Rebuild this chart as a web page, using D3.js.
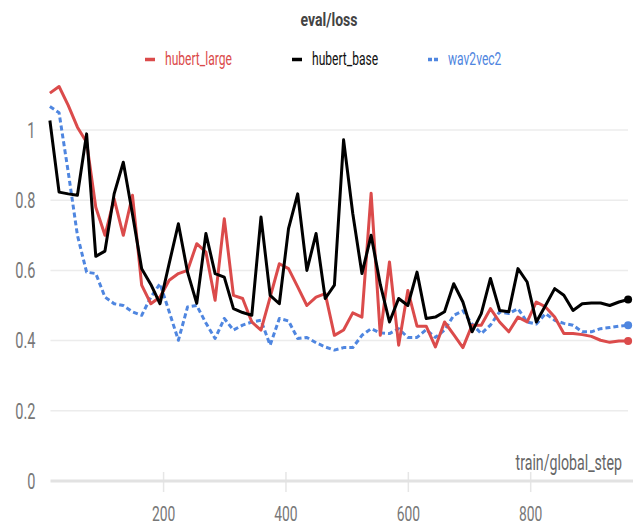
<!DOCTYPE html>
<html>
<head>
<meta charset="utf-8">
<script src="https://cdn.jsdelivr.net/npm/d3@7"></script>
<style>
  body { margin: 0; background: #fff; }
  text { font-family: Roboto, "Liberation Sans", sans-serif; }
</style>
</head>
<body>
<div id="chart-area"></div>
<script>
// eval/loss per eval step
var steps = [15, 30, 45, 60, 75, 90, 105, 120, 135, 150, 165, 180, 195, 210, 225, 240,
    255, 270, 285, 300, 315, 330, 345, 360, 375, 390, 405, 420, 435, 450, 465, 480,
    495, 510, 525, 540, 555, 570, 585, 600, 615, 630, 645, 660, 675, 690, 705, 720,
    735, 750, 765, 780, 795, 810, 825, 840, 855, 870, 885, 900, 915, 930, 945, 960];

var hubertLarge = [1.105, 1.124, 1.07, 1.008, 0.965, 0.78, 0.70, 0.804, 0.70, 0.814, 0.558, 0.505, 0.524, 0.572, 0.591, 0.60,
    0.676, 0.652, 0.515, 0.747, 0.529, 0.52, 0.453, 0.43, 0.524, 0.619, 0.605, 0.553, 0.50, 0.524, 0.534, 0.415,
    0.43, 0.479, 0.467, 0.82, 0.415, 0.624, 0.387, 0.543, 0.441, 0.441, 0.382, 0.453, 0.417, 0.38, 0.444, 0.444,
    0.491, 0.453, 0.425, 0.467, 0.453, 0.51, 0.496, 0.467, 0.42, 0.42, 0.417, 0.412, 0.401, 0.395, 0.399, 0.399];

var hubertBase = [1.027, 0.823, 0.818, 0.814, 0.989, 0.64, 0.655, 0.818, 0.908, 0.76, 0.605, 0.56, 0.505, 0.62, 0.733, 0.595,
    0.506, 0.705, 0.591, 0.581, 0.491, 0.48, 0.472, 0.752, 0.529, 0.505, 0.719, 0.818, 0.60, 0.705, 0.52, 0.558,
    0.972, 0.762, 0.591, 0.70, 0.56, 0.453, 0.52, 0.50, 0.595, 0.463, 0.467, 0.482, 0.562, 0.51, 0.425, 0.477,
    0.577, 0.486, 0.482, 0.605, 0.567, 0.453, 0.50, 0.548, 0.529, 0.486, 0.505, 0.507, 0.507, 0.50, 0.51, 0.517];

var wav2vec2 = [1.067, 1.049, 0.88, 0.70, 0.595, 0.591, 0.524, 0.505, 0.50, 0.482, 0.472, 0.524, 0.562, 0.482, 0.401, 0.496,
    0.50, 0.45, 0.406, 0.463, 0.43, 0.444, 0.453, 0.458, 0.387, 0.463, 0.456, 0.406, 0.409, 0.394, 0.382, 0.373,
    0.38, 0.38, 0.415, 0.434, 0.422, 0.42, 0.434, 0.409, 0.409, 0.431, 0.409, 0.43, 0.472, 0.485, 0.447, 0.42,
    0.444, 0.482, 0.477, 0.491, 0.453, 0.447, 0.477, 0.458, 0.449, 0.444, 0.425, 0.425, 0.434, 0.437, 0.441, 0.444];

var seriesNames = ["hubert_large", "hubert_base", "wav2vec2"];
var seriesColors = ["#db4b4b", "#000000", "#4f86e0"];
var yTicks = [0, 0.2, 0.4, 0.6, 0.8, 1];
var xTicks = [200, 400, 600, 800];

var width = 633;
var height = 527;
var sx = 0.66; // narrow lettering

var svg = d3.select("#chart-area").append("svg")
    .attr("width", width)
    .attr("height", height);

var x = d3.scaleLinear()
    .domain([16, 968])
    .range([50.5, 633]);

var y = d3.scaleLinear()
    .domain([0, 1])
    .range([481, 130]);

// horizontal grid
svg.append("g")
    .attr("class", "grid")
    .selectAll("line")
    .data(yTicks.filter((d) => d > 0))
    .enter().append("line")
        .attr("x1", x.range()[0])
        .attr("x2", 628)
        .attr("y1", (d) => y(d))
        .attr("y2", (d) => y(d))
        .attr("stroke", "#ececec")
        .attr("stroke-width", 1.5);

// y Axis labels
var yAxisCall = d3.axisLeft(y)
    .tickValues(yTicks)
    .tickSize(0)
    .tickFormat((d) => d3.format("")(d));
svg.append("g")
    .attr("class", "y axis")
    .attr("transform", "translate(" + x.range()[0] + ", 0)")
    .call(yAxisCall);
svg.select(".y.axis").select(".domain").remove();
svg.select(".y.axis").selectAll(".tick text")
    .attr("x", -15 / sx)
    .attr("dy", "0.33em")
    .attr("transform", "scale(" + sx + ",1)")
    .style("font-size", "22px")
    .style("fill", "#777");

// x Axis
var xAxisCall = d3.axisBottom(x)
    .tickValues(xTicks)
    .tickSize(20)
    .tickPadding(14);
svg.append("g")
    .attr("class", "x axis")
    .attr("transform", "translate(0, 472)")
    .call(xAxisCall);
svg.select(".x.axis").select(".domain").remove();
svg.select(".x.axis").selectAll(".tick line")
    .attr("stroke", "#e6e6e6")
    .attr("stroke-width", 1.5);
svg.select(".x.axis").selectAll(".tick text")
    .attr("transform", "scale(" + sx + ",1)")
    .style("font-size", "21px")
    .style("fill", "#777");

// zero line
svg.append("line")
    .attr("x1", x.range()[0])
    .attr("x2", x.range()[1])
    .attr("y1", y(0))
    .attr("y2", y(0))
    .attr("stroke", "#e2e2e2")
    .attr("stroke-width", 3);

function label(px, py, str, size, anchor, color, weight, scaleX) {
    svg.append("g")
        .attr("transform", "translate(" + px + "," + py + ") scale(" + scaleX + ",1)")
        .append("text")
            .attr("text-anchor", anchor)
            .style("font-size", size + "px")
            .style("font-weight", weight)
            .style("fill", color)
            .text(str);
}

// x Label
label(622, 470, "train/global_step", 21.5, "end", "#666", 400, sx);

// title
label(329, 26, "eval/loss", 18.5, "middle", "#444", 700, 0.76);

// lines
var allValues = [hubertLarge, hubertBase, wav2vec2];
var line = d3.line()
    .x((d, i) => x(steps[i]))
    .y((d) => y(d));

[2, 0, 1].forEach((k) => {
    svg.append("path")
        .datum(allValues[k])
        .attr("fill", "none")
        .attr("stroke", seriesColors[k])
        .attr("stroke-width", 3)
        .attr("stroke-linejoin", "round")
        .attr("stroke-dasharray", k == 2 ? "5,3" : null)
        .attr("d", line);

    var last = allValues[k].length - 1;
    svg.append("circle")
        .attr("cx", x(steps[last]))
        .attr("cy", y(allValues[k][last]))
        .attr("r", 4)
        .attr("fill", seriesColors[k]);
});

// legend
var legendX = [145, 292, 428];
seriesNames.forEach((name, k) => {
    svg.append("line")
        .attr("x1", legendX[k])
        .attr("x2", legendX[k] + 10)
        .attr("y1", 59.5)
        .attr("y2", 59.5)
        .attr("stroke", seriesColors[k])
        .attr("stroke-width", 3.5)
        .attr("stroke-dasharray", k == 2 ? "4,2" : null);
    label(legendX[k] + 20, 64.5, name, 18, "start", k == 1 ? "#111" : seriesColors[k], 400, 0.67);
});
</script>
</body>
</html>
